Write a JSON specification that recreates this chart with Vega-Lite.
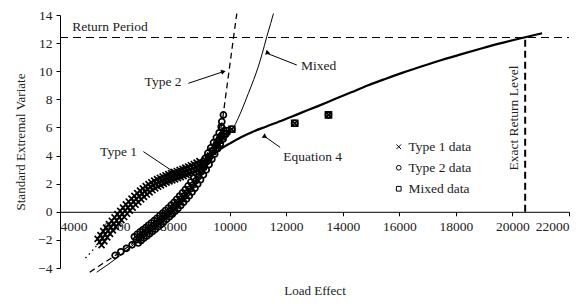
{
"$schema": "https://vega.github.io/schema/vega-lite/v6.json",
"width": 509, "height": 253,
"autosize": "none",
"padding": {"left": 60, "top": 15, "right": 17, "bottom": 36},
"config": {
  "view": {"stroke": null},
  "font": "Times New Roman, Liberation Serif, serif",
  "axis": {"grid": false, "domainColor": "#000", "tickColor": "#000", "labelColor": "#222", "titleColor": "#222",
    "labelFont": "Times New Roman, Liberation Serif, serif", "titleFont": "Times New Roman, Liberation Serif, serif", "labelFontSize": 13.5, "titleFontSize": 13,
    "titleFontWeight": "normal", "tickSize": 4, "labelPadding": 4, "labelOverlap": false}
},
"datasets": {
  "pts": [
    {"series":"Type 1 data","x":5400,"y":-2.15},{"series":"Type 1 data","x":5500,"y":-1.88},{"series":"Type 1 data","x":5600,"y":-1.6},{"series":"Type 1 data","x":5700,"y":-1.35},{"series":"Type 1 data","x":5800,"y":-1.1},{"series":"Type 1 data","x":5900,"y":-0.86},{"series":"Type 1 data","x":6000,"y":-0.62},{"series":"Type 1 data","x":6100,"y":-0.38},{"series":"Type 1 data","x":6200,"y":-0.15},{"series":"Type 1 data","x":6300,"y":0.08},{"series":"Type 1 data","x":6400,"y":0.3},{"series":"Type 1 data","x":6500,"y":0.51},{"series":"Type 1 data","x":6600,"y":0.72},{"series":"Type 1 data","x":6700,"y":0.91},{"series":"Type 1 data","x":6800,"y":1.1},{"series":"Type 1 data","x":6900,"y":1.28},{"series":"Type 1 data","x":7000,"y":1.45},{"series":"Type 1 data","x":7100,"y":1.6},{"series":"Type 1 data","x":7200,"y":1.75},{"series":"Type 1 data","x":7300,"y":1.88},{"series":"Type 1 data","x":7400,"y":2.0},{"series":"Type 1 data","x":7500,"y":2.1},{"series":"Type 1 data","x":7600,"y":2.2},{"series":"Type 1 data","x":7700,"y":2.29},{"series":"Type 1 data","x":7800,"y":2.38},{"series":"Type 1 data","x":7900,"y":2.46},{"series":"Type 1 data","x":8000,"y":2.53},{"series":"Type 1 data","x":8100,"y":2.61},{"series":"Type 1 data","x":8200,"y":2.68},{"series":"Type 1 data","x":8300,"y":2.76},{"series":"Type 1 data","x":8400,"y":2.84},{"series":"Type 1 data","x":8500,"y":2.92},{"series":"Type 1 data","x":8600,"y":3.0},{"series":"Type 1 data","x":8700,"y":3.09},{"series":"Type 1 data","x":8800,"y":3.18},{"series":"Type 1 data","x":8900,"y":3.28},{"series":"Type 1 data","x":9000,"y":3.38},
    {"series":"Type 1 data","x":5330,"y":-1.93},{"series":"Type 1 data","x":5430,"y":-1.66},{"series":"Type 1 data","x":5530,"y":-1.38},{"series":"Type 1 data","x":5630,"y":-1.13},{"series":"Type 1 data","x":5730,"y":-0.88},{"series":"Type 1 data","x":5830,"y":-0.64},{"series":"Type 1 data","x":5930,"y":-0.40},{"series":"Type 1 data","x":6030,"y":-0.16},{"series":"Type 1 data","x":6130,"y":0.07},{"series":"Type 1 data","x":6230,"y":0.30},{"series":"Type 1 data","x":6330,"y":0.52},{"series":"Type 1 data","x":6430,"y":0.73},{"series":"Type 1 data","x":6530,"y":0.94},{"series":"Type 1 data","x":6630,"y":1.13},{"series":"Type 1 data","x":6730,"y":1.32},{"series":"Type 1 data","x":6830,"y":1.50},{"series":"Type 1 data","x":6930,"y":1.67},{"series":"Type 1 data","x":7030,"y":1.82},{"series":"Type 1 data","x":7130,"y":1.97},{"series":"Type 1 data","x":7230,"y":2.10},{"series":"Type 1 data","x":7330,"y":2.22},{"series":"Type 1 data","x":7430,"y":2.32},{"series":"Type 1 data","x":7530,"y":2.42},{"series":"Type 1 data","x":7630,"y":2.51},{"series":"Type 1 data","x":7730,"y":2.60},{"series":"Type 1 data","x":7830,"y":2.68},{"series":"Type 1 data","x":7930,"y":2.75},{"series":"Type 1 data","x":8030,"y":2.83},{"series":"Type 1 data","x":8130,"y":2.90},{"series":"Type 1 data","x":8230,"y":2.98},{"series":"Type 1 data","x":8330,"y":3.06},{"series":"Type 1 data","x":8430,"y":3.14},{"series":"Type 1 data","x":8530,"y":3.22},{"series":"Type 1 data","x":8630,"y":3.31},{"series":"Type 1 data","x":8730,"y":3.40},{"series":"Type 1 data","x":8830,"y":3.50},{"series":"Type 1 data","x":8930,"y":3.60},
    {"series":"Type 1 data","x":5470,"y":-2.37},{"series":"Type 1 data","x":5570,"y":-2.10},{"series":"Type 1 data","x":5670,"y":-1.82},{"series":"Type 1 data","x":5770,"y":-1.57},{"series":"Type 1 data","x":5870,"y":-1.32},{"series":"Type 1 data","x":5970,"y":-1.08},{"series":"Type 1 data","x":6070,"y":-0.84},{"series":"Type 1 data","x":6170,"y":-0.60},{"series":"Type 1 data","x":6270,"y":-0.37},{"series":"Type 1 data","x":6370,"y":-0.14},{"series":"Type 1 data","x":6470,"y":0.08},{"series":"Type 1 data","x":6570,"y":0.29},{"series":"Type 1 data","x":6670,"y":0.50},{"series":"Type 1 data","x":6770,"y":0.69},{"series":"Type 1 data","x":6870,"y":0.88},{"series":"Type 1 data","x":6970,"y":1.06},{"series":"Type 1 data","x":7070,"y":1.23},{"series":"Type 1 data","x":7170,"y":1.38},{"series":"Type 1 data","x":7270,"y":1.53},{"series":"Type 1 data","x":7370,"y":1.66},{"series":"Type 1 data","x":7470,"y":1.78},{"series":"Type 1 data","x":7570,"y":1.88},{"series":"Type 1 data","x":7670,"y":1.98},{"series":"Type 1 data","x":7770,"y":2.07},{"series":"Type 1 data","x":7870,"y":2.16},{"series":"Type 1 data","x":7970,"y":2.24},{"series":"Type 1 data","x":8070,"y":2.31},{"series":"Type 1 data","x":8170,"y":2.39},{"series":"Type 1 data","x":8270,"y":2.46},{"series":"Type 1 data","x":8370,"y":2.54},{"series":"Type 1 data","x":8470,"y":2.62},{"series":"Type 1 data","x":8570,"y":2.70},{"series":"Type 1 data","x":8670,"y":2.78},{"series":"Type 1 data","x":8770,"y":2.87},{"series":"Type 1 data","x":8870,"y":2.96},{"series":"Type 1 data","x":8970,"y":3.06},{"series":"Type 1 data","x":9070,"y":3.16},
    {"series":"Type 1 data","x":9150,"y":3.65},{"series":"Type 1 data","x":9300,"y":4.0},{"series":"Type 1 data","x":9450,"y":4.4},{"series":"Type 1 data","x":9600,"y":4.85},{"series":"Type 1 data","x":9750,"y":5.3},{"series":"Type 1 data","x":10074,"y":5.87},{"series":"Type 1 data","x":12300,"y":6.3},{"series":"Type 1 data","x":13494,"y":6.9},
    {"series":"Type 2 data","x":6700,"y":-2.0},{"series":"Type 2 data","x":6800,"y":-1.82},{"series":"Type 2 data","x":6900,"y":-1.65},{"series":"Type 2 data","x":7000,"y":-1.5},{"series":"Type 2 data","x":7100,"y":-1.35},{"series":"Type 2 data","x":7200,"y":-1.18},{"series":"Type 2 data","x":7300,"y":-1.02},{"series":"Type 2 data","x":7400,"y":-0.85},{"series":"Type 2 data","x":7500,"y":-0.68},{"series":"Type 2 data","x":7600,"y":-0.5},{"series":"Type 2 data","x":7700,"y":-0.32},{"series":"Type 2 data","x":7800,"y":-0.13},{"series":"Type 2 data","x":7900,"y":0.05},{"series":"Type 2 data","x":8000,"y":0.25},{"series":"Type 2 data","x":8100,"y":0.45},{"series":"Type 2 data","x":8200,"y":0.67},{"series":"Type 2 data","x":8300,"y":0.9},{"series":"Type 2 data","x":8400,"y":1.12},{"series":"Type 2 data","x":8500,"y":1.35},{"series":"Type 2 data","x":8600,"y":1.62},{"series":"Type 2 data","x":8700,"y":1.9},{"series":"Type 2 data","x":8800,"y":2.2},{"series":"Type 2 data","x":8900,"y":2.5},{"series":"Type 2 data","x":9000,"y":2.85},{"series":"Type 2 data","x":9100,"y":3.2},{"series":"Type 2 data","x":9200,"y":3.58},{"series":"Type 2 data","x":9300,"y":3.95},{"series":"Type 2 data","x":9400,"y":4.32},{"series":"Type 2 data","x":9500,"y":4.7},{"series":"Type 2 data","x":9600,"y":5.05},{"series":"Type 2 data","x":9700,"y":5.4},{"series":"Type 2 data","x":9800,"y":5.75},
    {"series":"Type 2 data","x":6630,"y":-1.78},{"series":"Type 2 data","x":6730,"y":-1.60},{"series":"Type 2 data","x":6830,"y":-1.43},{"series":"Type 2 data","x":6930,"y":-1.28},{"series":"Type 2 data","x":7030,"y":-1.13},{"series":"Type 2 data","x":7130,"y":-0.96},{"series":"Type 2 data","x":7230,"y":-0.80},{"series":"Type 2 data","x":7330,"y":-0.63},{"series":"Type 2 data","x":7430,"y":-0.46},{"series":"Type 2 data","x":7530,"y":-0.28},{"series":"Type 2 data","x":7630,"y":-0.10},{"series":"Type 2 data","x":7730,"y":0.09},{"series":"Type 2 data","x":7830,"y":0.27},{"series":"Type 2 data","x":7930,"y":0.47},{"series":"Type 2 data","x":8030,"y":0.67},{"series":"Type 2 data","x":8130,"y":0.89},{"series":"Type 2 data","x":8230,"y":1.12},{"series":"Type 2 data","x":8330,"y":1.34},{"series":"Type 2 data","x":8430,"y":1.57},{"series":"Type 2 data","x":8530,"y":1.84},{"series":"Type 2 data","x":8630,"y":2.12},{"series":"Type 2 data","x":8730,"y":2.42},{"series":"Type 2 data","x":8830,"y":2.72},{"series":"Type 2 data","x":8930,"y":3.07},{"series":"Type 2 data","x":9030,"y":3.42},{"series":"Type 2 data","x":9130,"y":3.80},{"series":"Type 2 data","x":9230,"y":4.17},{"series":"Type 2 data","x":9330,"y":4.54},{"series":"Type 2 data","x":9430,"y":4.92},{"series":"Type 2 data","x":9530,"y":5.27},{"series":"Type 2 data","x":9630,"y":5.62},{"series":"Type 2 data","x":9730,"y":5.97},
    {"series":"Type 2 data","x":6770,"y":-2.22},{"series":"Type 2 data","x":6870,"y":-2.04},{"series":"Type 2 data","x":6970,"y":-1.87},{"series":"Type 2 data","x":7070,"y":-1.72},{"series":"Type 2 data","x":7170,"y":-1.57},{"series":"Type 2 data","x":7270,"y":-1.40},{"series":"Type 2 data","x":7370,"y":-1.24},{"series":"Type 2 data","x":7470,"y":-1.07},{"series":"Type 2 data","x":7570,"y":-0.90},{"series":"Type 2 data","x":7670,"y":-0.72},{"series":"Type 2 data","x":7770,"y":-0.54},{"series":"Type 2 data","x":7870,"y":-0.35},{"series":"Type 2 data","x":7970,"y":-0.17},{"series":"Type 2 data","x":8070,"y":0.03},{"series":"Type 2 data","x":8170,"y":0.23},{"series":"Type 2 data","x":8270,"y":0.45},{"series":"Type 2 data","x":8370,"y":0.68},{"series":"Type 2 data","x":8470,"y":0.90},{"series":"Type 2 data","x":8570,"y":1.13},{"series":"Type 2 data","x":8670,"y":1.40},{"series":"Type 2 data","x":8770,"y":1.68},{"series":"Type 2 data","x":8870,"y":1.98},{"series":"Type 2 data","x":8970,"y":2.28},{"series":"Type 2 data","x":9070,"y":2.63},{"series":"Type 2 data","x":9170,"y":2.98},{"series":"Type 2 data","x":9270,"y":3.36},{"series":"Type 2 data","x":9370,"y":3.73},{"series":"Type 2 data","x":9470,"y":4.10},{"series":"Type 2 data","x":9570,"y":4.48},{"series":"Type 2 data","x":9670,"y":4.83},{"series":"Type 2 data","x":9770,"y":5.18},{"series":"Type 2 data","x":9870,"y":5.53},
    {"series":"Type 2 data","x":6550,"y":-2.35},{"series":"Type 2 data","x":6350,"y":-2.6},{"series":"Type 2 data","x":6150,"y":-2.85},{"series":"Type 2 data","x":5950,"y":-3.1},
    {"series":"Type 2 data","x":9700,"y":6.05},{"series":"Type 2 data","x":9722,"y":6.41},{"series":"Type 2 data","x":9779,"y":6.89},{"series":"Type 2 data","x":10074,"y":5.87},{"series":"Type 2 data","x":12300,"y":6.3},{"series":"Type 2 data","x":13494,"y":6.9},
    {"series":"Mixed data","x":9100,"y":3.4},{"series":"Mixed data","x":9250,"y":3.85},{"series":"Mixed data","x":9400,"y":4.3},{"series":"Mixed data","x":9550,"y":4.75},{"series":"Mixed data","x":9650,"y":5.1},{"series":"Mixed data","x":9800,"y":5.55},{"series":"Mixed data","x":9900,"y":5.75},{"series":"Mixed data","x":10074,"y":5.87},{"series":"Mixed data","x":12300,"y":6.3},{"series":"Mixed data","x":13494,"y":6.9}
  ],
  "curves": [
    {"series":"Equation 4","x":9300,"y":4.05},{"series":"Equation 4","x":9500,"y":4.25},{"series":"Equation 4","x":9700,"y":4.5},{"series":"Equation 4","x":10000,"y":4.85},{"series":"Equation 4","x":10400,"y":5.3},{"series":"Equation 4","x":10800,"y":5.68},{"series":"Equation 4","x":11300,"y":6.07},{"series":"Equation 4","x":11900,"y":6.53},{"series":"Equation 4","x":12500,"y":7.02},{"series":"Equation 4","x":13100,"y":7.5},{"series":"Equation 4","x":13700,"y":8.0},{"series":"Equation 4","x":14300,"y":8.5},{"series":"Equation 4","x":14900,"y":9.0},{"series":"Equation 4","x":15500,"y":9.45},{"series":"Equation 4","x":16100,"y":9.88},{"series":"Equation 4","x":16800,"y":10.35},{"series":"Equation 4","x":17500,"y":10.8},{"series":"Equation 4","x":18200,"y":11.22},{"series":"Equation 4","x":18900,"y":11.62},{"series":"Equation 4","x":19600,"y":12.0},{"series":"Equation 4","x":20450,"y":12.42},{"series":"Equation 4","x":21050,"y":12.7},
    {"series":"Type 2","x":5050,"y":-4.3},{"series":"Type 2","x":5500,"y":-3.7},{"series":"Type 2","x":6000,"y":-3.05},{"series":"Type 2","x":6500,"y":-2.35},{"series":"Type 2","x":6900,"y":-1.7},{"series":"Type 2","x":7300,"y":-1.05},{"series":"Type 2","x":7700,"y":-0.35},{"series":"Type 2","x":8100,"y":0.42},{"series":"Type 2","x":8500,"y":1.3},{"series":"Type 2","x":8900,"y":2.4},{"series":"Type 2","x":9200,"y":3.5},{"series":"Type 2","x":9450,"y":4.55},{"series":"Type 2","x":9650,"y":5.65},{"series":"Type 2","x":9750,"y":6.6},{"series":"Type 2","x":9839,"y":7.95},{"series":"Type 2","x":9950,"y":9.6},{"series":"Type 2","x":10050,"y":11.1},{"series":"Type 2","x":10150,"y":12.6},{"series":"Type 2","x":10252,"y":14.1},
    {"series":"Mixed","x":5300,"y":-4.3},{"series":"Mixed","x":5700,"y":-3.75},{"series":"Mixed","x":6100,"y":-3.15},{"series":"Mixed","x":6500,"y":-2.5},{"series":"Mixed","x":6900,"y":-1.85},{"series":"Mixed","x":7300,"y":-1.2},{"series":"Mixed","x":7700,"y":-0.5},{"series":"Mixed","x":8100,"y":0.3},{"series":"Mixed","x":8500,"y":1.2},{"series":"Mixed","x":8900,"y":2.3},{"series":"Mixed","x":9200,"y":3.3},{"series":"Mixed","x":9500,"y":4.3},{"series":"Mixed","x":9800,"y":5.25},{"series":"Mixed","x":10000,"y":5.7},{"series":"Mixed","x":10133,"y":6.0},{"series":"Mixed","x":10300,"y":6.65},{"series":"Mixed","x":10500,"y":7.6},{"series":"Mixed","x":10663,"y":8.43},{"series":"Mixed","x":10850,"y":9.4},{"series":"Mixed","x":11000,"y":10.25},{"series":"Mixed","x":11150,"y":11.25},{"series":"Mixed","x":11313,"y":12.46},{"series":"Mixed","x":11450,"y":13.4},{"series":"Mixed","x":11548,"y":14.1},
    {"series":"Type 1","x":4900,"y":-3.3},{"series":"Type 1","x":5150,"y":-2.75},{"series":"Type 1","x":5400,"y":-2.15},{"series":"Type 1","x":5800,"y":-1.1},{"series":"Type 1","x":6200,"y":-0.15},{"series":"Type 1","x":6600,"y":0.72},{"series":"Type 1","x":7000,"y":1.45},{"series":"Type 1","x":7400,"y":2.0},{"series":"Type 1","x":7800,"y":2.38},{"series":"Type 1","x":8200,"y":2.68},{"series":"Type 1","x":8600,"y":3.0},{"series":"Type 1","x":9000,"y":3.38}
  ],
  "arrows": [
    {"label":"Type 2","x":8540,"y":9.14,"x2":9779,"y2":9.97},
    {"label":"Type 1","x":6948,"y":4.28,"x2":7952,"y2":2.93},
    {"label":"Mixed","x":12374,"y":10.44,"x2":11313,"y2":11.28},
    {"label":"Equation 4","x":11785,"y":4.58,"x2":11254,"y2":5.34}
  ],
  "labels": [
    {"label":"Type 2","x":7645,"y":9.23},
    {"label":"Type 1","x":6070,"y":4.22},
    {"label":"Mixed","x":13147,"y":10.4},
    {"label":"Equation 4","x":12935,"y":3.87},
    {"label":"Return Period","x":5769,"y":13.15}
  ],
  "vlabels": [{"label":"Exact Return Level","x":20065,"y":6.67}],
  "hline": [{"x":4000,"x2":22000,"y":12.4}],
  "vline": [{"x":20450,"y":0,"y2":12.4}]
},
"encoding": {
  "x": {"field":"x","type":"quantitative","scale":{"domain":[4000,22000],"nice":false,"zero":false},
        "axis":{"title":"Load Effect","values":[4000,6000,8000,10000,12000,14000,16000,18000,20000,22000],"format":"d","offset":-56.2,"titlePadding":51}},
  "y": {"field":"y","type":"quantitative","scale":{"domain":[-4,14],"nice":false,"zero":false},
        "axis":{"title":"Standard Extremal Variate","values":[-4,-2,0,2,4,6,8,10,12,14],"titlePadding":10}}
},
"layer": [
  {"data":{"name":"hline"},"mark":{"type":"rule","color":"#000","strokeWidth":1.2,"strokeDash":[8,5]},"encoding":{"x2":{"field":"x2"}}},
  {"data":{"name":"vline"},"mark":{"type":"rule","color":"#000","strokeWidth":2,"strokeDash":[7,4]},"encoding":{"y2":{"field":"y2"}}},
  {"data":{"name":"curves"},"transform":[{"filter":"datum.series==='Type 1'"}],"mark":{"type":"line","color":"#000","strokeWidth":1.3,"strokeDash":[1.5,3.5]},"encoding":{}},
  {"data":{"name":"curves"},"transform":[{"filter":"datum.series==='Type 2'"}],"mark":{"type":"line","color":"#000","strokeWidth":1.3,"strokeDash":[6,4],"interpolate":"monotone"},"encoding":{}},
  {"data":{"name":"curves"},"transform":[{"filter":"datum.series==='Mixed'"}],"mark":{"type":"line","color":"#000","strokeWidth":1,"interpolate":"monotone"},"encoding":{}},
  {"data":{"name":"curves"},"transform":[{"filter":"datum.series==='Equation 4'"}],"mark":{"type":"line","color":"#000","strokeWidth":2.2,"interpolate":"monotone"},"encoding":{}},
  {"data":{"name":"pts"},"mark":{"type":"point","filled":false,"color":"#000","size":36,"strokeWidth":1.7,"opacity":1},
   "encoding":{"shape":{"field":"series","type":"nominal","scale":{"domain":["Type 1 data","Type 2 data","Mixed data"],"range":["M-1,-1L1,1M-1,1L1,-1","circle","square"]},
     "legend":{"orient":"none","legendX":332,"legendY":125,"title":null,"labelFont":"Times New Roman, Liberation Serif, serif","labelFontSize":13.5,"labelColor":"#222","symbolSize":22,"symbolStrokeWidth":1,"symbolStrokeColor":"#000","symbolFillColor":"transparent","rowPadding":6,"labelOffset":3,"padding":0}}}},
  {"data":{"name":"arrows"},"mark":{"type":"rule","color":"#000","strokeWidth":1},"encoding":{"x2":{"field":"x2"},"y2":{"field":"y2"}}},
  {"data":{"name":"arrows"},"mark":{"type":"point","filled":true,"color":"#000","size":28,"shape":"triangle-right","opacity":1},
   "encoding":{"x":{"field":"x2","type":"quantitative"},"y":{"field":"y2","type":"quantitative"},
     "angle":{"field":"label","type":"nominal","scale":{"domain":["Type 2","Type 1","Mixed","Equation 4"],"range":[342,34,201,215]},"legend":null}}},
  {"data":{"name":"labels"},"mark":{"type":"text","font":"Times New Roman, Liberation Serif, serif","fontSize":13.5,"color":"#222","align":"center","baseline":"middle"},"encoding":{"text":{"field":"label"}}},
  {"data":{"name":"vlabels"},"mark":{"type":"text","font":"Times New Roman, Liberation Serif, serif","fontSize":13.5,"color":"#222","align":"center","baseline":"middle","angle":270},"encoding":{"text":{"field":"label"}}}
]
}
